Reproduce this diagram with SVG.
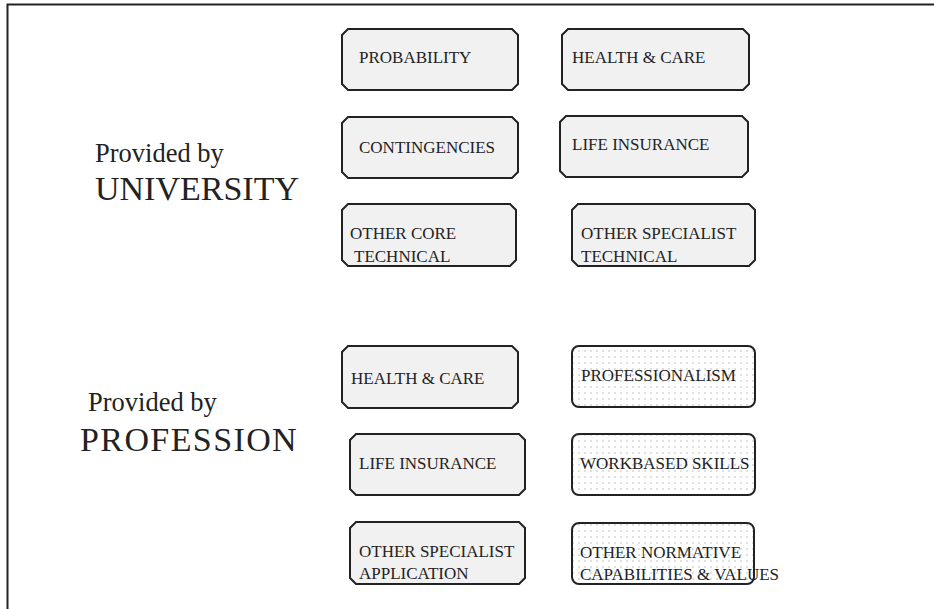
<svg xmlns="http://www.w3.org/2000/svg" width="934" height="609" viewBox="0 0 934 609">
<style>
.box{fill:#f1f1f1;stroke:#222;stroke-width:2}
.dot{fill:url(#dots);stroke:#222;stroke-width:2}
.t{font-family:"Liberation Serif","Times New Roman",serif;font-size:17px;fill:#222}
.h1{font-family:"Liberation Serif","Times New Roman",serif;font-size:26.5px;fill:#222}
.h2{font-family:"Liberation Serif","Times New Roman",serif;font-size:34px;fill:#222}
</style>
<defs>
<pattern id="dots" width="6" height="6" patternUnits="userSpaceOnUse">
<rect width="6" height="6" fill="#fff"/>
<circle cx="3" cy="3" r="0.7" fill="#aaa"/>
</pattern>
</defs>
<g id="frame" fill="none" stroke="#222" stroke-width="2">
<path d="M7.5,609 V4.5 H934"/>
</g>
<g id="labels">
<text class="h1" x="95" y="162">Provided by</text>
<text class="h2" x="95" y="200">UNIVERSITY</text>
<text class="h1" x="88" y="411">Provided by</text>
<text class="h2" x="80" y="451" letter-spacing="1.4">PROFESSION</text>
</g>
<g id="n1"><path class="box" d="M348,29 H512 L518,35 V84 L512,90 H348 L342,84 V35 Z"/><text class="t" x="359" y="63">PROBABILITY</text></g>
<g id="n2"><path class="box" d="M568,29 H743 L749,35 V84 L743,90 H568 L562,84 V35 Z"/><text class="t" x="572" y="63">HEALTH &amp; CARE</text></g>
<g id="n3"><path class="box" d="M348,117 H512 L518,123 V172 L512,178 H348 L342,172 V123 Z"/><text class="t" x="359" y="153">CONTINGENCIES</text></g>
<g id="n4"><path class="box" d="M566,116 H742 L748,122 V171 L742,177 H566 L560,171 V122 Z"/><text class="t" x="572" y="150">LIFE INSURANCE</text></g>
<g id="n5"><path class="box" d="M348,204 H510 L516,210 V260 L510,266 H348 L342,260 V210 Z"/><text class="t" x="350" y="239">OTHER CORE</text><text class="t" x="354" y="262">TECHNICAL</text></g>
<g id="n6"><path class="box" d="M578,204 H749 L755,210 V260 L749,266 H578 L572,260 V210 Z"/><text class="t" x="581" y="239">OTHER SPECIALIST</text><text class="t" x="581" y="262">TECHNICAL</text></g>
<g id="n7"><path class="box" d="M348,346 H512 L518,352 V402 L512,408 H348 L342,402 V352 Z"/><text class="t" x="351" y="384">HEALTH &amp; CARE</text></g>
<g id="n8"><rect class="dot" x="572" y="346" width="183" height="61" rx="7"/><text class="t" x="581" y="381">PROFESSIONALISM</text></g>
<g id="n9"><path class="box" d="M356,434 H519 L525,440 V489 L519,495 H356 L350,489 V440 Z"/><text class="t" x="359" y="469">LIFE INSURANCE</text></g>
<g id="n10"><rect class="dot" x="572" y="434" width="183" height="61" rx="7"/><text class="t" x="580" y="469">WORKBASED SKILLS</text></g>
<g id="n11"><path class="box" d="M356,522 H519 L525,528 V578 L519,584 H356 L350,578 V528 Z"/><text class="t" x="359" y="557">OTHER SPECIALIST</text><text class="t" x="359" y="579">APPLICATION</text></g>
<g id="n12"><rect class="dot" x="572" y="523" width="182" height="61" rx="7"/><text class="t" x="580" y="558">OTHER NORMATIVE</text><text class="t" x="580" y="580">CAPABILITIES &amp; VALUES</text></g>
</svg>
